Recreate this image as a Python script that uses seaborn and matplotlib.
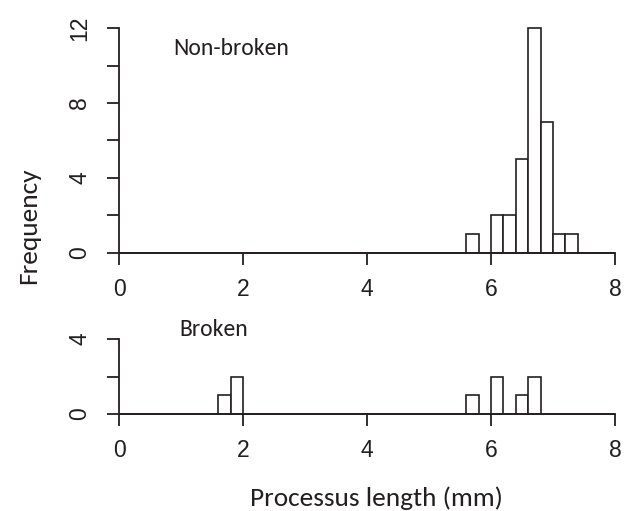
import pandas as pd
import seaborn as sns
import matplotlib.pyplot as plt

# bin width 0.2 mm, counts
nonbroken_mids = [5.7, 6.1, 6.3, 6.5, 6.7, 6.9, 7.1, 7.3]
nonbroken_counts = [1, 2, 2, 5, 12, 7, 1, 1]
broken_mids = [1.7, 1.9, 5.7, 6.1, 6.5, 6.7]
broken_counts = [1, 2, 1, 2, 1, 2]

x_ticks = [0, 2, 4, 6, 8]

sns.set_theme(style="white")
plt.rcParams['font.family'] = ['Liberation Sans', 'DejaVu Sans']
label_font = ['Carlito', 'Lato']
ink = '#231f20'

fig = plt.figure(figsize=(6.29, 5.11), dpi=100)
ax_top = fig.add_axes([0.1892, 0.5049, 0.7886, 0.4403])
ax_bot = fig.add_axes([0.1892, 0.1898, 0.7886, 0.1468])


def draw_hist(ax, mids, counts, ymax, yticks, ylabels):
    df = pd.DataFrame({'length': mids, 'n': counts})
    sns.histplot(data=df, x='length', weights='n', binwidth=0.2,
                 binrange=(0, 8), ax=ax,
                 color='white', edgecolor=ink, linewidth=1.2, alpha=1)
    ax.set_xlim(0, 8)
    ax.set_ylim(0, ymax)
    for s in ['top', 'right']:
        ax.spines[s].set_visible(False)
    for s in ['left', 'bottom']:
        ax.spines[s].set_color(ink)
        ax.spines[s].set_linewidth(1.3)
    ax.set_xticks(x_ticks)
    ax.set_xticklabels([str(t) for t in x_ticks])
    ax.set_yticks(yticks)
    ax.set_yticklabels(ylabels, rotation=90, va='center')
    ax.tick_params(axis='x', direction='out', length=8.5, width=1.3, pad=9.4,
                   labelsize=16.5, colors=ink, bottom=True)
    ax.tick_params(axis='y', direction='out', length=8.5, width=1.3, pad=11.5,
                   labelsize=16.5, colors=ink, left=True)
    ax.set_xlabel('')
    ax.set_ylabel('')
    for art in ax.patches:
        art.set_clip_on(False)


draw_hist(ax_top, nonbroken_mids, nonbroken_counts, 12,
          [0, 2, 4, 6, 8, 10, 12], ['0', '', '4', '', '8', '', '12'])
draw_hist(ax_bot, broken_mids, broken_counts, 4,
          [0, 2, 4], ['0', '', '4'])

ax_top.text(0.87, 10.9, 'Non-broken', fontsize=17, family=label_font,
            ha='left', va='center', color=ink)
ax_bot.text(0.97, 4.5, 'Broken', fontsize=17, family=label_font,
            ha='left', va='center', color=ink, clip_on=False)

fig.text(0.046, 0.558, 'Frequency', rotation=90, fontsize=19.7,
         family=label_font, ha='center', va='center', color=ink)
fig.text(0.598, 0.009, 'Processus length (mm)', fontsize=19.7,
         family=label_font, ha='center', va='baseline', color=ink)

fig.savefig('out.png', dpi=100)
